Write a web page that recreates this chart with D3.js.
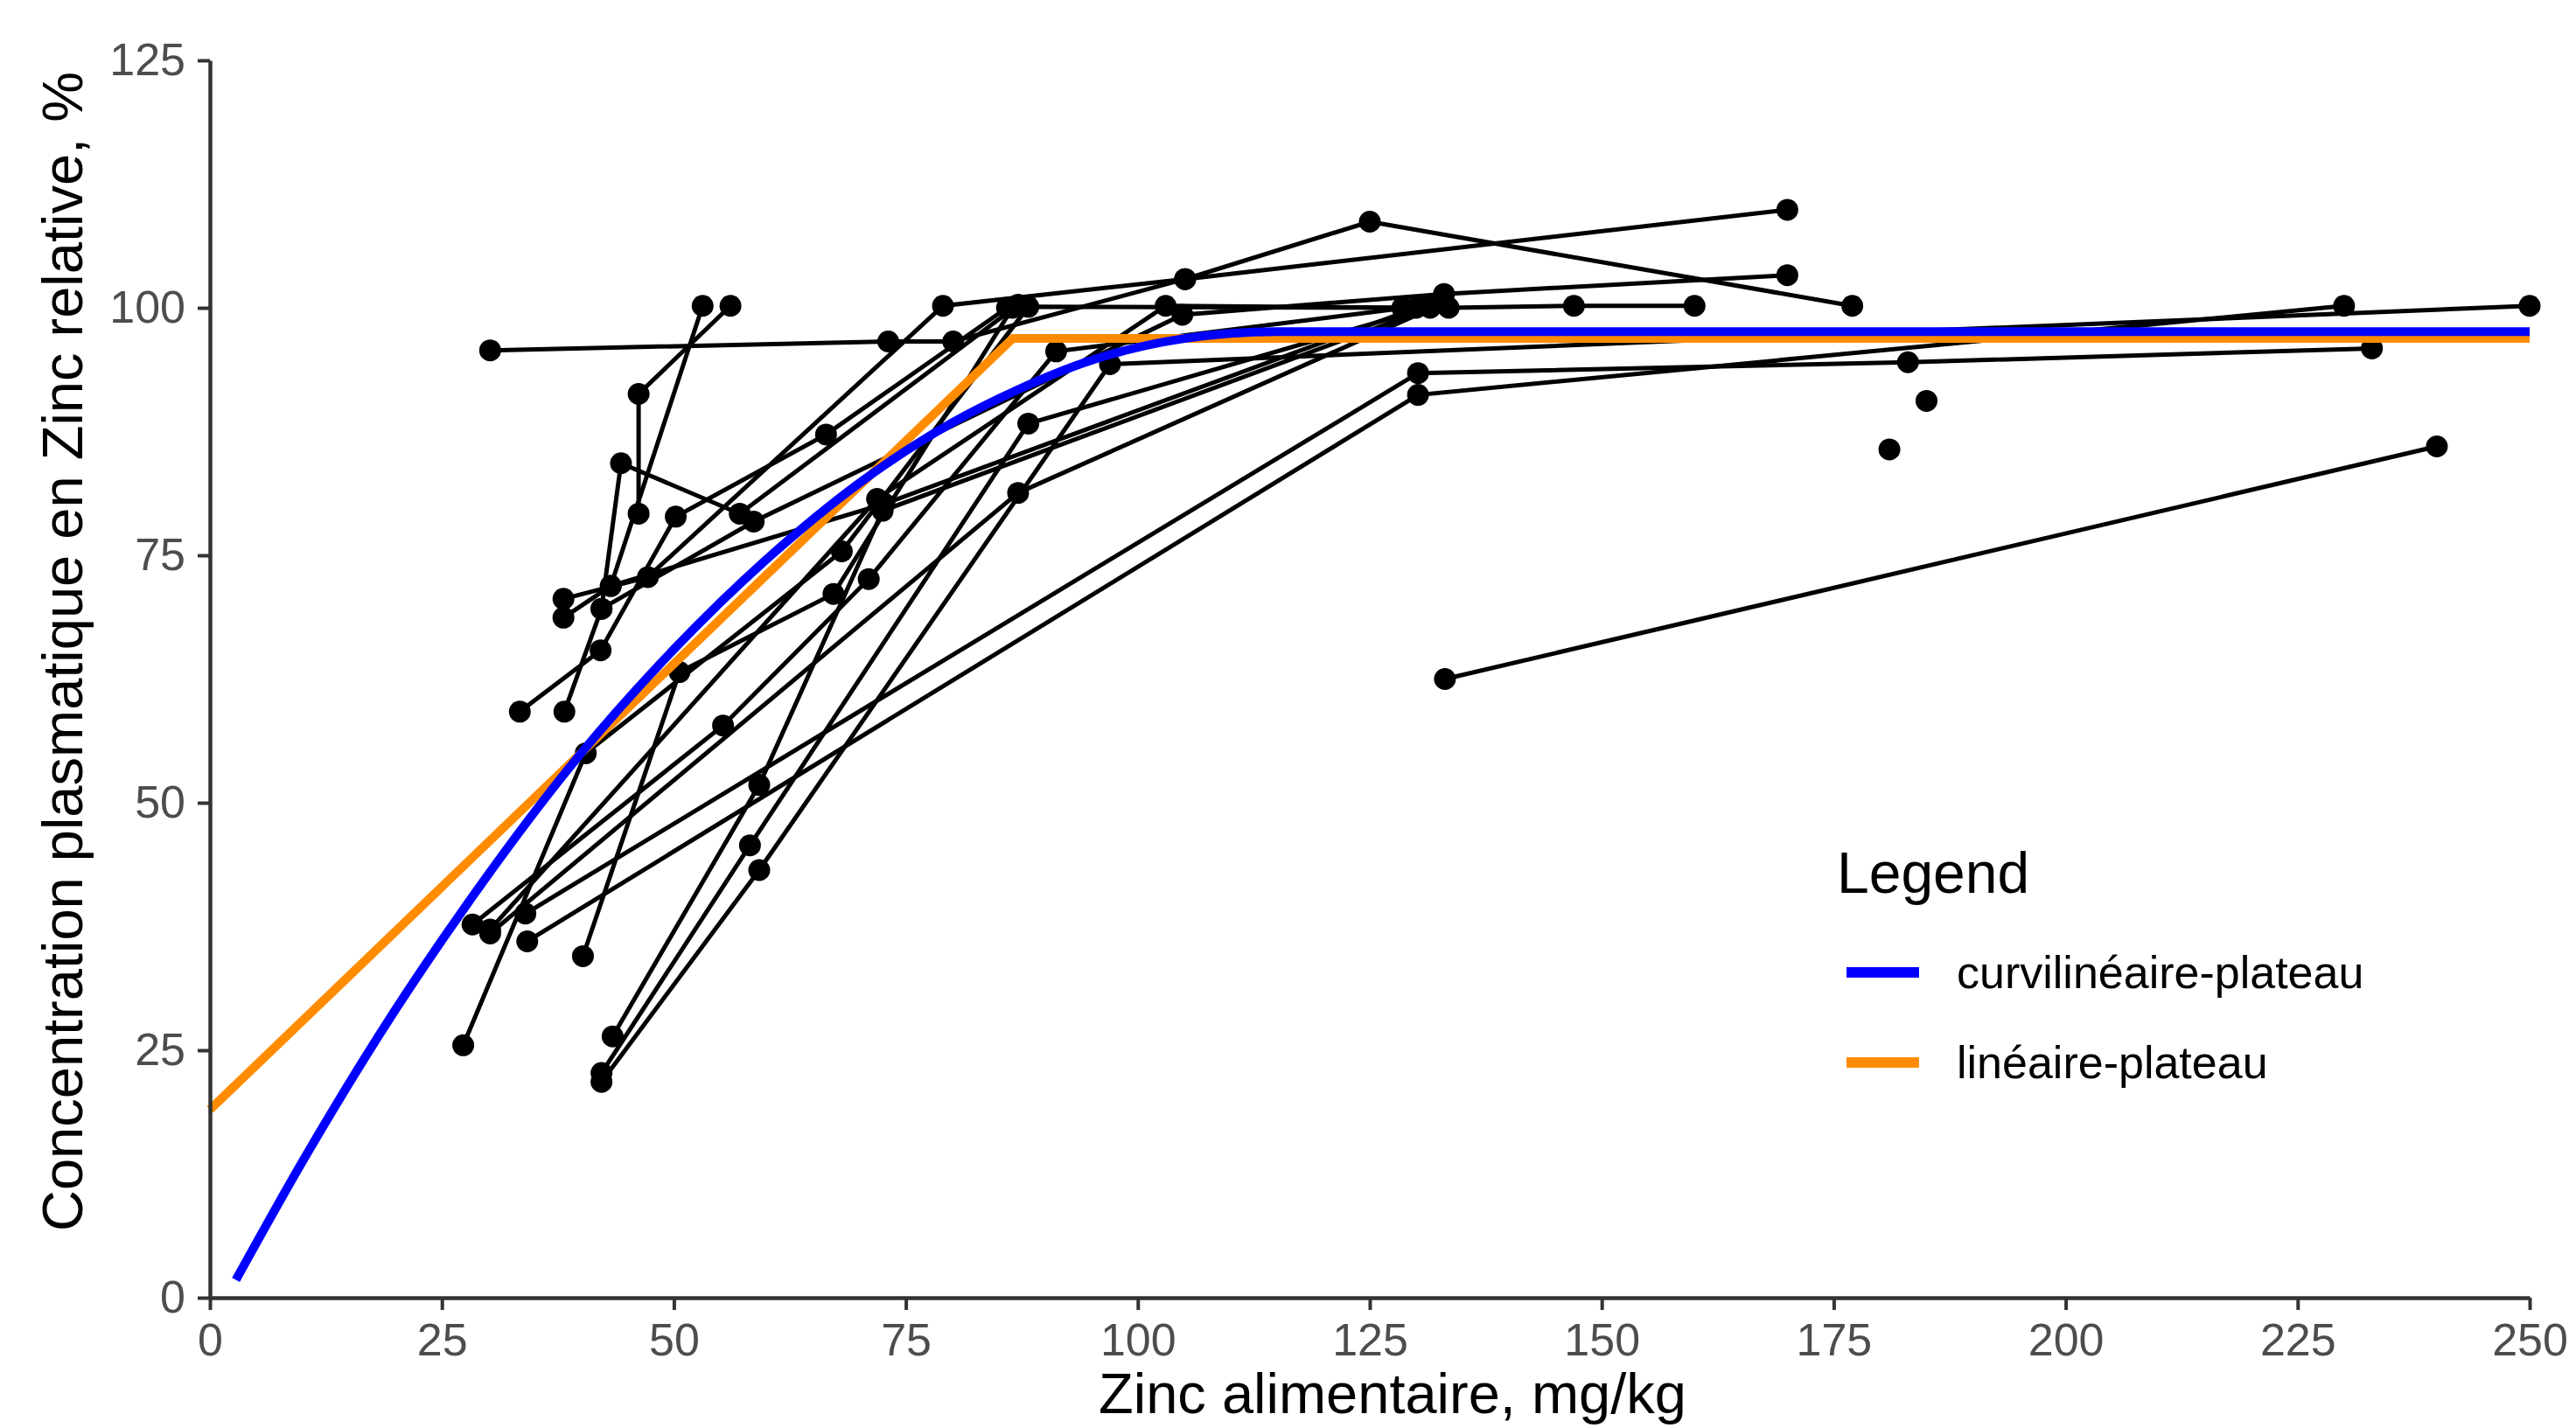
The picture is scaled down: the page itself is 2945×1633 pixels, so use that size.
<!DOCTYPE html>
<html>
<head>
<meta charset="utf-8">
<script src="https://cdn.jsdelivr.net/npm/d3@7"></script>
<style>
  body { margin: 0; background: #fff; }
  text { font-family: "Liberation Sans", Arial, Helvetica, sans-serif; }
</style>
</head>
<body>
<svg id="chart" width="2945" height="1633"></svg>
<script>
// Données : une liste de points [zinc, concentration] par étude
var studies = [
  [[30.2, 95.7], [73.1, 96.6], [80.1, 96.6], [105.1, 102.9], [170, 109.9]],
  [[46.2, 79.2], [46.2, 91.3], [56.1, 100.2]],
  [[43.2, 71.9], [53.1, 100.2]],
  [[42.2, 69.6], [44.3, 84.3], [57.1, 79.2], [87.1, 100.3]],
  [[38.1, 70.6], [47.2, 72.8], [79.0, 100.2], [105.1, 102.9], [125, 108.7], [177, 100.2]],
  [[38.1, 68.7], [43.2, 71.9], [72.7, 80.2], [130, 100]],
  [[33.4, 59.2], [42.1, 65.4], [50.2, 78.9], [66.4, 87.2], [85.9, 100]],
  [[38.2, 59.2], [42.2, 69.6], [58.6, 78.4], [104.8, 99.3], [133, 101.4], [170, 103.3]],
  [[27.3, 25.5], [40.5, 55], [68.1, 75.4], [88.2, 100.1], [133.5, 100], [147, 100.2], [160, 100.2]],
  [[28.3, 37.7], [55.3, 57.8], [71.0, 72.6], [91.2, 95.6], [131.5, 100.3]],
  [[30.2, 37.2], [71.9, 80.7], [103, 100.2], [128.5, 100]],
  [[30.2, 36.8], [87.1, 81.3], [133, 100.5]],
  [[34.0, 38.8], [130.2, 93.4], [183, 94.5], [233, 95.9]],
  [[34.2, 36.0], [130.2, 91.2], [230, 100.2]],
  [[40.2, 34.5], [50.6, 63.2], [67.2, 71.1], [86.5, 100]],
  [[43.4, 26.4], [59.2, 51.8], [72.5, 79.5], [131.5, 100]],
  [[42.2, 22.7], [58.2, 45.7], [88.2, 88.3], [133, 100.5]],
  [[42.2, 21.8], [59.2, 43.2], [97.0, 94.3], [250, 100.2]],
  [[133.1, 62.5], [240, 86]]
];
var isolated = [[181, 85.7], [185, 90.6]];

// Courbes ajustées (lues point par point sur l'image)
var curviX = [2.8, 10, 20, 27, 40, 50, 60, 70, 80, 87, 95, 105, 115, 250];
var curviY = [1.8, 13.8, 29.1, 38.8, 55, 65.5, 74.6, 82.3, 88.4, 91.7, 94.7, 96.9, 97.6, 97.6];
var linX = [0, 86.5, 250];
var linY = [19, 96.9, 96.9];

var xTicks = [0, 25, 50, 75, 100, 125, 150, 175, 200, 225, 250];
var yTicks = [0, 25, 50, 75, 100, 125];
var legendNames = ["curvilinéaire-plateau", "linéaire-plateau"];
var legendColors = ["#0000ff", "#ff8c00"];

var svg = d3.select("#chart");

var x = d3.scaleLinear().domain([0, 250]).range([240, 2892]);
var y = d3.scaleLinear().domain([0, 125]).range([1484, 69]);

var line = d3.line()
  .x(function(d) { return x(d[0]); })
  .y(function(d) { return y(d[1]); });

// Lignes des études
svg.append("g")
  .selectAll("path")
  .data(studies)
  .enter()
  .append("path")
  .attr("d", line)
  .attr("fill", "none")
  .attr("stroke", "#000")
  .attr("stroke-width", 5);

// Points
var allPoints = [];
studies.forEach(function(s) { s.forEach(function(p) { allPoints.push(p); }); });
isolated.forEach(function(p) { allPoints.push(p); });

svg.append("g")
  .selectAll("circle")
  .data(allPoints)
  .enter()
  .append("circle")
  .attr("cx", function(d) { return x(d[0]); })
  .attr("cy", function(d) { return y(d[1]); })
  .attr("r", 12.5)
  .attr("fill", "#000");

// Modèles
var linData = linX.map(function(v, i) { return [v, linY[i]]; });
var curviData = curviX.map(function(v, i) { return [v, curviY[i]]; });

svg.append("path")
  .datum(linData)
  .attr("d", line)
  .attr("fill", "none")
  .attr("stroke", legendColors[1])
  .attr("stroke-width", 10)
  .attr("stroke-linejoin", "round");

svg.append("path")
  .datum(curviData)
  .attr("d", d3.line()
    .x(function(d) { return x(d[0]); })
    .y(function(d) { return y(d[1]); })
    .curve(d3.curveMonotoneX))
  .attr("fill", "none")
  .attr("stroke", legendColors[0])
  .attr("stroke-width", 10);

// Axes
var xAxis = d3.axisBottom(x).tickValues(xTicks).tickSize(14).tickSizeOuter(0).tickPadding(15);
var yAxis = d3.axisLeft(y).tickValues(yTicks).tickSize(14).tickSizeOuter(0).tickPadding(14);

var gx = svg.append("g").attr("transform", "translate(0,1484)").call(xAxis);
var gy = svg.append("g").attr("transform", "translate(240,0)").call(yAxis);

[gx, gy].forEach(function(g) {
  g.select(".domain").attr("stroke", "#333").attr("stroke-width", 4.5);
  g.selectAll(".tick line").attr("stroke", "#333").attr("stroke-width", 4);
  g.selectAll(".tick text")
    .attr("fill", "#4d4d4d")
    .attr("font-size", "52px")
    .attr("font-family", "Liberation Sans, Arial, sans-serif");
});

// Titres des axes
svg.append("text")
  .attr("x", 1592)
  .attr("y", 1616)
  .attr("text-anchor", "middle")
  .attr("font-size", "65px")
  .attr("fill", "#000")
  .text("Zinc alimentaire, mg/kg");

svg.append("text")
  .attr("transform", "translate(94,745) rotate(-90)")
  .attr("text-anchor", "middle")
  .attr("font-size", "65px")
  .attr("fill", "#000")
  .text("Concentration plasmatique en Zinc relative, %");

// Légende
var legend = svg.append("g").attr("transform", "translate(2100,0)");
legend.append("text")
  .attr("x", 0)
  .attr("y", 1021)
  .attr("font-size", "66px")
  .attr("fill", "#000")
  .text("Legend");

var items = legend.selectAll("g.item")
  .data(legendNames)
  .enter()
  .append("g")
  .attr("class", "item")
  .attr("transform", function(d, i) { return "translate(0," + (1112 + i * 103) + ")"; });

items.append("line")
  .attr("x1", 11)
  .attr("x2", 94)
  .attr("stroke", function(d, i) { return legendColors[i]; })
  .attr("stroke-width", 12);

items.append("text")
  .attr("x", 137)
  .attr("y", 0)
  .attr("dominant-baseline", "central")
  .attr("font-size", "52px")
  .attr("fill", "#000")
  .text(function(d) { return d; });
</script>
</body>
</html>
